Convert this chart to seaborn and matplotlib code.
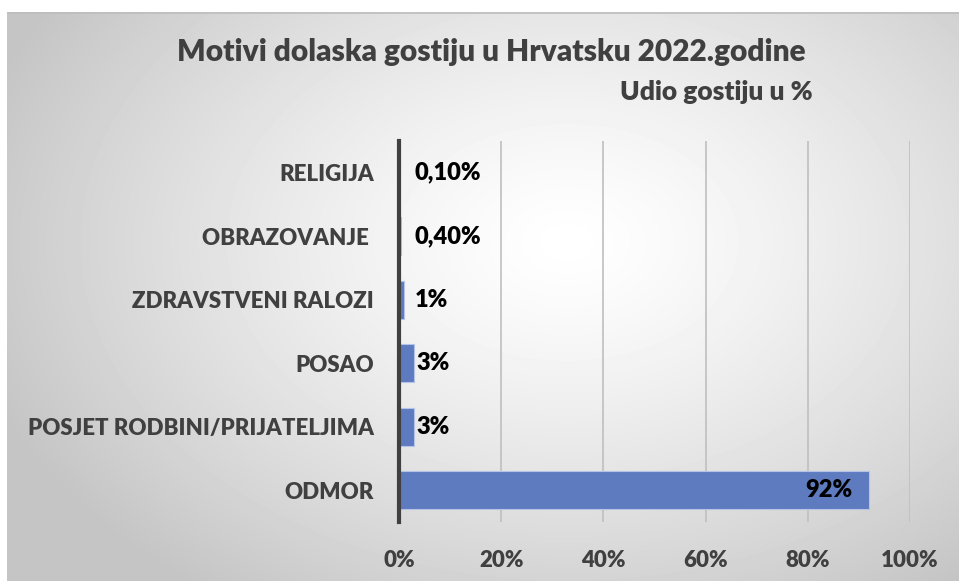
import numpy as np
import pandas as pd
import matplotlib
matplotlib.use('Agg')
import matplotlib.pyplot as plt
from matplotlib.ticker import FuncFormatter
import seaborn as sns

# data
categories = ['RELIGIJA', 'OBRAZOVANJE ', 'ZDRAVSTVENI RALOZI', 'POSAO',
              'POSJET RODBINI/PRIJATELJIMA', 'ODMOR']
shares = [0.1, 0.4, 1, 3, 3, 92]
value_labels = ['0,10%', '0,40%', '1%', '3%', '3%', '92%']
x_ticks = [0, 20, 40, 60, 80, 100]

df = pd.DataFrame({'motiv': categories, 'udio': shares})

sns.set_theme(style='white')
plt.rcParams['font.family'] = ['Lato', 'DejaVu Sans']
W = 'heavy'

fig = plt.figure(figsize=(9.59, 5.81), dpi=100)
fig.patch.set_facecolor('white')

# radial grey-to-white background of the chart box
bg = fig.add_axes([7 / 959, 0, 1 - 7 / 959, 1 - 12 / 581], zorder=-1)
h, w = 569, 952
yy, xx = np.mgrid[0:h, 0:w]
r = np.sqrt(((xx - 560) / 620) ** 2 + ((yy - 230) / 430) ** 2)
shade = 1 - 0.23 * np.clip(r, 0, 1) ** 1.3
bg.imshow(shade, cmap='gray', vmin=0, vmax=1, aspect='auto', interpolation='bilinear')
bg.set_axis_off()
bg.axhline(0, color='#bdbdbd', lw=1.2)

ax = fig.add_axes([399 / 959, 1 - 522 / 581, 511 / 959, 381 / 581])
ax.set_facecolor('none')

sns.barplot(data=df, x='udio', y='motiv', orient='h', color='#5E7BC0',
            width=0.6, edgecolor='#b4c3e6', linewidth=0.8, ax=ax, saturation=1)

ax.set_xlim(0, 100)
ax.set_ylim(5.5, -0.5)
ax.set_xticks(x_ticks)
ax.xaxis.set_major_formatter(FuncFormatter(lambda v, p: f'{v:.0f}%'))
ax.grid(axis='x', color='#bfbfbf', lw=1.2)
ax.set_axisbelow(True)
for s in ['top', 'right', 'bottom']:
    ax.spines[s].set_visible(False)
ax.spines['left'].set_color('#404040')
ax.spines['left'].set_linewidth(3)
ax.tick_params(axis='both', length=0, labelcolor='#404040', labelsize=16)
ax.tick_params(axis='x', pad=20)
ax.tick_params(axis='y', pad=18)
for t in ax.get_xticklabels() + ax.get_yticklabels():
    t.set_fontweight(W)
ax.set_xlabel('')
ax.set_ylabel('')

for i, (v, lab) in enumerate(zip(shares, value_labels)):
    if v > 50:
        ax.text(v - 3.3, i, lab, ha='right', va='center', fontsize=17,
                fontweight=W, color='black')
    else:
        ax.text(max(v, 2.6) + 0.5, i, lab, ha='left', va='center', fontsize=17,
                fontweight=W, color='black')

fig.text(491 / 959, 1 - 52 / 581, 'Motivi dolaska gostiju u Hrvatsku 2022.godine',
         ha='center', va='center', fontsize=21.5, fontweight=W, color='#404040')
fig.text(716 / 959, 1 - 92 / 581, 'Udio gostiju u %',
         ha='center', va='center', fontsize=19, fontweight=W, color='#404040')

fig.savefig('out.png', dpi=100)
